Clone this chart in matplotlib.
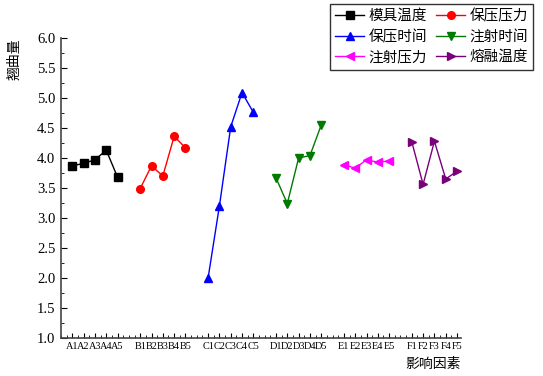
"""
Warpage vs. process factor levels (orthogonal test range chart).
"""

import matplotlib
matplotlib.use("Agg")
import matplotlib.pyplot as plt
from matplotlib.ticker import MultipleLocator

plt.rcParams["font.family"] = ["Liberation Serif", "Noto Sans CJK SC", "DejaVu Sans"]

# ── Data ──────────────────────────────────────────────────────────────────────
factor_names = ["模具温度", "保压压力", "保压时间", "注射时间", "注射压力", "熔融温度"]
level_labels = [
    ["A1", "A2", "A3", "A4", "A5"],
    ["B1", "B2", "B3", "B4", "B5"],
    ["C1", "C2", "C3", "C4", "C5"],
    ["D1", "D2", "D3", "D4", "D5"],
    ["E1", "E2", "E3", "E4", "E5"],
    ["F1", "F2", "F3", "F4", "F5"],
]
mold_temp      = [3.87, 3.91, 3.97, 4.13, 3.68]
hold_pressure  = [3.49, 3.87, 3.70, 4.36, 4.17]
hold_time      = [2.00, 3.20, 4.52, 5.09, 4.76]
inject_time    = [3.67, 3.24, 4.00, 4.04, 4.55]
inject_press   = [3.89, 3.83, 3.97, 3.93, 3.95]
melt_temp      = [4.27, 3.56, 4.28, 3.65, 3.78]
series = [mold_temp, hold_pressure, hold_time, inject_time, inject_press, melt_temp]

colors  = ["#000000", "#ff0000", "#0000ff", "#007a00", "#ff00ff", "#7a007a"]
markers = ["s", "o", "^", "v", "<", ">"]

# ── Plot ──────────────────────────────────────────────────────────────────────
fig = plt.figure(figsize=(5.43, 3.76), dpi=100)
ax = fig.add_axes([0.1123, 0.101, 0.7367, 0.798])

positions, labels, handles = [], [], []
for i, (name, vals) in enumerate(zip(factor_names, series)):
    xs = [6 * i + k + 1 for k in range(len(vals))]
    h, = ax.plot(xs, vals, color=colors[i], marker=markers[i], markersize=5.5,
                 linewidth=1.0, label=name)
    handles.append(h)
    positions += xs
    labels += level_labels[i]

ax.set_xlim(0, 35.35)
ax.set_ylim(1.0, 6.0)
ax.yaxis.set_major_locator(MultipleLocator(0.5))
ax.yaxis.set_minor_locator(MultipleLocator(0.25))
ax.set_xticks(positions)
ax.set_xticklabels(labels, fontsize=7.4)
ax.xaxis.set_minor_locator(MultipleLocator(0.5))

for side in ["top", "right"]:
    ax.spines[side].set_visible(False)
for side in ["left", "bottom"]:
    ax.spines[side].set_linewidth(1.2)
    ax.spines[side].set_color("#444444")

ax.tick_params(axis="y", which="major", direction="in", length=4, labelsize=10.5, pad=4)
ax.tick_params(axis="y", which="minor", direction="in", length=2)
ax.tick_params(axis="x", which="major", direction="in", length=3.5, pad=3)
ax.tick_params(axis="x", which="minor", direction="in", length=2)

ax.set_ylabel("翘曲量", fontsize=10, family=["Noto Sans CJK SC"])
ax.yaxis.set_label_coords(-0.1, 0.93)
ax.set_xlabel("影响因素", fontsize=10, family=["Noto Sans CJK SC"], loc="right")

# row-major legend order (matplotlib fills columns first)
order = [0, 2, 4, 1, 3, 5]
leg = fig.legend([handles[j] for j in order], [factor_names[j] for j in order],
                 loc="upper right", bbox_to_anchor=(0.982, 0.99), ncol=2,
                 prop={"family": "Noto Sans CJK SC", "size": 10.5},
                 frameon=True, fancybox=False, edgecolor="black",
                 handlelength=2.0, handletextpad=0.3, columnspacing=0.6,
                 labelspacing=0.45, borderpad=0.35, borderaxespad=0)
leg.get_frame().set_linewidth(1.0)

fig.savefig("out.png", dpi=100)
